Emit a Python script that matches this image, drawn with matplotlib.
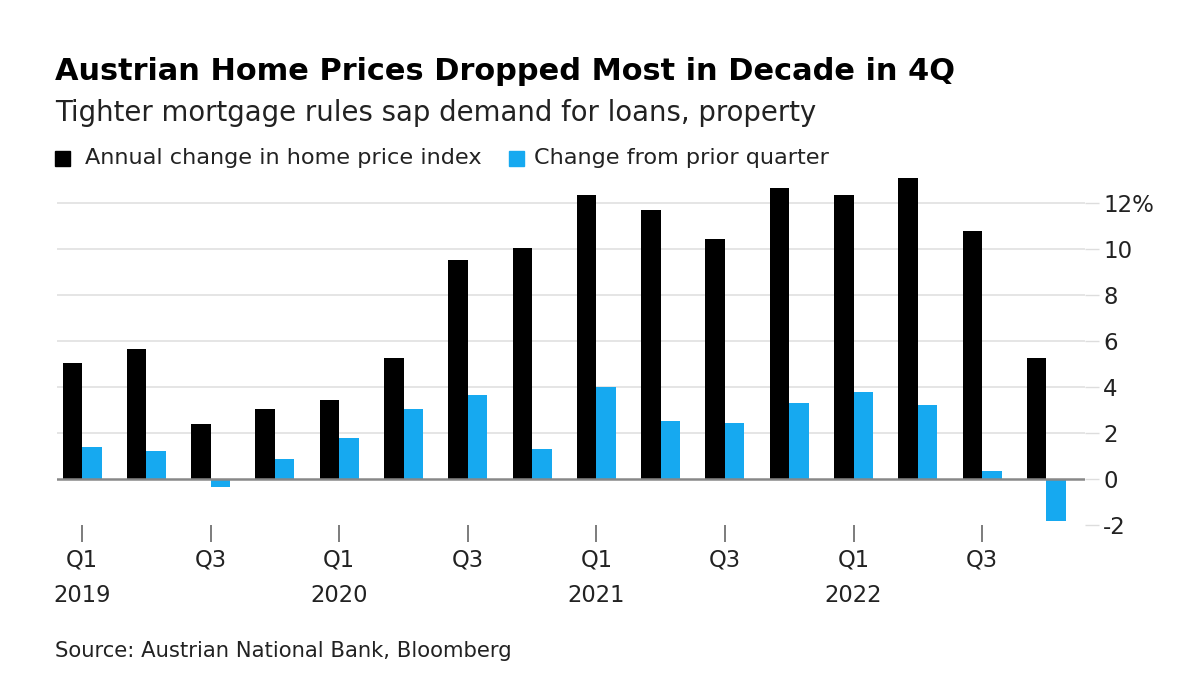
import matplotlib
matplotlib.use("Agg")
import matplotlib.pyplot as plt
from matplotlib.patches import Rectangle
import numpy as np

quarters = ["Q1 2019", "Q2 2019", "Q3 2019", "Q4 2019",
            "Q1 2020", "Q2 2020", "Q3 2020", "Q4 2020",
            "Q1 2021", "Q2 2021", "Q3 2021", "Q4 2021",
            "Q1 2022", "Q2 2022", "Q3 2022", "Q4 2022"]
annual_change = [5.05, 5.65, 2.39, 3.06, 3.44, 5.27, 9.53, 10.05,
                 12.33, 11.71, 10.42, 12.63, 12.33, 13.09, 10.80, 5.27]
quarterly_change = [1.39, 1.23, -0.35, 0.86, 1.78, 3.06, 3.66, 1.32,
                    3.99, 2.53, 2.45, 3.30, 3.76, 3.21, 0.34, -1.83]
tick_labels = ["Q1\n2019", "Q3", "Q1\n2020", "Q3", "Q1\n2021", "Q3", "Q1\n2022", "Q3"]
y_ticks = [-2, 0, 2, 4, 6, 8, 10, 12]
y_labels = ["-2", "0", "2", "4", "6", "8", "10", "12%"]

plt.rcParams['font.family'] = ['DejaVu Sans']

W, H = 1200, 692
fig = plt.figure(figsize=(W / 100, H / 100), dpi=100)
ax = fig.add_axes([57 / W, (H - 525) / H, (1085 - 57) / W, (525 - 173) / H])

x = np.arange(len(quarters))
w = 0.303
ax.bar(x - w / 2, annual_change, width=w, color="#000000", zorder=3)
ax.bar(x + w / 2, quarterly_change, width=w, color="#16a9f0", zorder=3)

ax.set_xlim(-0.39, 15.6)
ax.set_ylim(-2, 13.3)

for s in ax.spines.values():
    s.set_visible(False)

ax.yaxis.tick_right()
ax.set_yticks(y_ticks)
ax.set_yticklabels(y_labels, fontsize=16.5, color="#222222")
ax.tick_params(axis="y", length=10, width=1, color="#dddddd", pad=3)
for yv in y_ticks[2:]:
    ax.axhline(yv, color="#e0e0e0", lw=1.2, zorder=1)
ax.axhline(0, color="#888888", lw=1.8, zorder=4)

ax.set_xticks(x[::2])
ax.set_xticklabels(tick_labels, fontsize=16.3, color="#222222", linespacing=1.7, va="top")
ax.tick_params(axis="x", length=12, width=1.2, color="#666666", pad=5)

fig.text(55 / W, 1 - 72 / H, "Austrian Home Prices Dropped Most in Decade in 4Q",
         fontsize=21.9, fontweight="bold", va="center", ha="left", color="#000000")
fig.text(55 / W, 1 - 113 / H, "Tighter mortgage rules sap demand for loans, property",
         fontsize=19.8, va="center", ha="left", color="#222222")

fig.patches.append(Rectangle((55 / W, 1 - 166 / H), 15 / W, 15 / H,
                             transform=fig.transFigure, color="#000000"))
fig.text(85 / W, 1 - 158 / H, "Annual change in home price index",
         fontsize=16.1, va="center", ha="left", color="#222222")
fig.patches.append(Rectangle((509 / W, 1 - 166 / H), 15 / W, 15 / H,
                             transform=fig.transFigure, color="#16a9f0"))
fig.text(534 / W, 1 - 158 / H, "Change from prior quarter",
         fontsize=16.1, va="center", ha="left", color="#222222")

fig.text(55 / W, 1 - 651 / H, "Source: Austrian National Bank, Bloomberg",
         fontsize=15.2, va="center", ha="left", color="#222222")

fig.savefig("out.png", dpi=100, facecolor="white")
